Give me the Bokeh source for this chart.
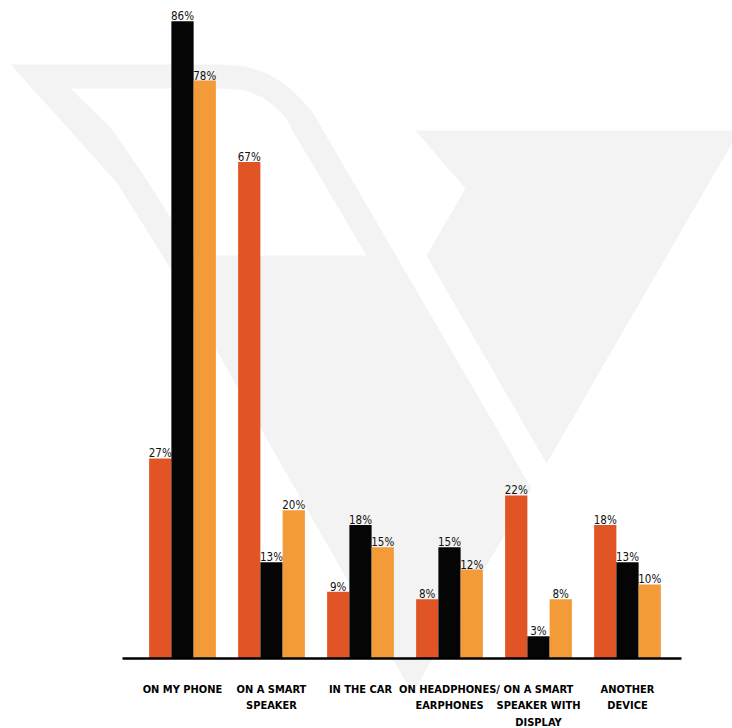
from bokeh.plotting import figure
from bokeh.models import Range1d, LinearAxis, FixedTicker
from bokeh.core.properties import value
from bokeh.embed import file_html
from bokeh.resources import INLINE

# ---------------- data ----------------
categories = ["ON MY PHONE", "ON A SMART\nSPEAKER", "IN THE CAR",
              "ON HEADPHONES/\nEARPHONES", "ON A SMART\nSPEAKER WITH\nDISPLAY",
              "ANOTHER\nDEVICE"]
series_1 = [27, 67, 9, 8, 22, 18]
series_2 = [86, 13, 18, 15, 3, 13]
series_3 = [78, 20, 15, 12, 8, 10]
series_colors = ["#E15426", "#050505", "#F39B38"]

# ---------------- layout constants (pixels) ----------------
W, H = 732, 728
X0_PX = 182.0      # pixel x of first category centre
STEP_PX = 89.0     # pixels per category
BASE_PX = 658.0    # pixel y of baseline
PX_PER_PCT = 7.41  # pixels per percentage point
BAR_W = 0.25       # bar width in category units
FONT = "DejaVu Sans Condensed"

def px_x(px):
    return (px - X0_PX) / STEP_PX

def px_y(py):
    return (BASE_PX - py) / PX_PER_PCT

# background logo watermark outline (canvas pixel coordinates, decoration only)
LOGO_LEFT_OUTER = [(10, 64), (220, 64), (245, 66), (267, 73), (285, 84), (300, 98),
                   (310, 109), (317, 120), (531, 488), (412, 693), (267, 440),
                   (167, 263), (117, 183), (67, 127)]
LOGO_LEFT_HOLE = [(70, 88), (224, 88), (245, 90), (262, 97), (276, 107), (287, 120),
                  (292, 130), (366, 255), (194, 255), (170, 217), (140, 170), (110, 127)]
LOGO_RIGHT = [(415, 130), (739, 130), (546, 463), (426, 255), (465, 188)]
LOGO_COLOR = "#F3F3F3"

p = figure(width=W, height=H, output_backend="svg", toolbar_location=None,
           x_range=Range1d(px_x(0), px_x(W)), y_range=Range1d(px_y(H), px_y(0)),
           x_axis_location=None, y_axis_location=None,
           min_border=0, min_border_left=0, min_border_right=0,
           min_border_top=0, min_border_bottom=0)
p.outline_line_color = None
p.xgrid.visible = False
p.ygrid.visible = False
p.background_fill_color = "white"
p.border_fill_color = "white"

# watermark
p.multi_polygons(
    xs=[[[[px_x(a) for a, b in LOGO_LEFT_OUTER], [px_x(a) for a, b in LOGO_LEFT_HOLE]]],
        [[[px_x(a) for a, b in LOGO_RIGHT]]]],
    ys=[[[[px_y(b) for a, b in LOGO_LEFT_OUTER], [px_y(b) for a, b in LOGO_LEFT_HOLE]]],
        [[[px_y(b) for a, b in LOGO_RIGHT]]]],
    fill_color=LOGO_COLOR, line_color=None)

# bars + labels
n = len(categories)
for j, (vals, col) in enumerate(zip([series_1, series_2, series_3], series_colors)):
    xs = [i + (j - 1) * BAR_W for i in range(n)]
    p.vbar(x=xs, top=vals, bottom=0, width=BAR_W, fill_color=col, line_color=None)
    p.text(x=xs, y=vals, text=[f"{v}%" for v in vals], text_align="center",
           text_baseline="alphabetic", y_offset=-5,
           text_font=value(FONT), text_font_size="11.5px",
           text_color="#111111")

# x axis at the baseline
ax = LinearAxis(fixed_location=0, ticker=FixedTicker(ticks=list(range(n))),
                major_label_overrides={i: c for i, c in enumerate(categories)})
ax.bounds = (px_x(122), px_x(681))
ax.axis_line_width = 2.5
ax.axis_line_color = "#000000"
ax.major_tick_line_color = None
ax.minor_tick_line_color = None
ax.major_tick_in = 0
ax.major_tick_out = 0
ax.major_label_standoff = 24
ax.major_label_text_font = FONT
ax.major_label_text_font_style = "bold"
ax.major_label_text_font_size = "11px"
ax.major_label_text_line_height = 1.3
ax.major_label_text_color = "#000000"
p.add_layout(ax, "below")

open("out.html", "w").write(file_html(p, INLINE))
